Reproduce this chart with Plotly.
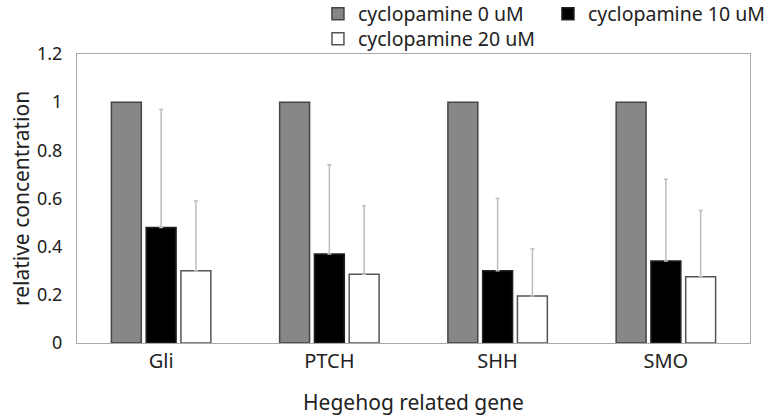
import plotly.graph_objects as go

genes = ["Gli", "PTCH", "SHH", "SMO"]
series_names = ["cyclopamine 0 uM", "cyclopamine 10 uM", "cyclopamine 20 uM"]
conc_0 = [1.0, 1.0, 1.0, 1.0]
conc_10 = [0.48, 0.37, 0.30, 0.34]
conc_20 = [0.30, 0.285, 0.195, 0.275]
err_10 = [0.49, 0.37, 0.30, 0.34]
err_20 = [0.29, 0.285, 0.195, 0.275]

fills = ["#878787", "#000000", "#ffffff"]
outlines = ["#444444", "#222222", "#555555"]
legend_ids = ["legend", "legend", "legend2"]

fig = go.Figure()
for name, vals, err, fc, lc, lg in zip(series_names, [conc_0, conc_10, conc_20],
                                       [None, err_10, err_20], fills, outlines,
                                       legend_ids):
    if err is None:
        ey = dict(visible=False)
    else:
        ey = dict(type="data", symmetric=False, array=err,
                  arrayminus=[0] * len(err), color="#bdbdbd",
                  thickness=1.5, width=2, visible=True)
    fig.add_trace(go.Bar(
        x=genes, y=vals, name=name, legend=lg,
        marker=dict(color=fc, line=dict(color=lc, width=1.5)),
        error_y=ey,
    ))

font = "Noto Sans"
leg_common = dict(orientation="h", xref="container", yref="container",
                  x=0.414, xanchor="left", yanchor="middle",
                  entrywidth=185, font=dict(size=19.5), itemwidth=30,
                  bgcolor="rgba(0,0,0,0)", traceorder="normal")
fig.update_layout(
    width=768, height=418,
    margin=dict(l=77, r=18, t=54, b=75, autoexpand=False),
    paper_bgcolor="white", plot_bgcolor="white",
    barmode="group", bargap=0.38, bargroupgap=0.14,
    font=dict(family=font, size=18, color="#222"),
    legend=dict(leg_common, y=1 - 14 / 418),
    legend2=dict(leg_common, y=1 - 39 / 418),
    xaxis=dict(showline=True, linecolor="#aaaaaa", linewidth=1, mirror=True,
               ticks="", title=dict(text="Hegehog related gene", standoff=22,
                                    font=dict(size=21)),
               tickfont=dict(size=20)),
    yaxis=dict(range=[0, 1.2], dtick=0.2, showgrid=False, showline=True,
               linecolor="#aaaaaa", linewidth=1, mirror=True, ticks="",
               zeroline=False, tickformat="~g", ticklabelstandoff=10,
               title=dict(text="relative concentration", standoff=1,
                          font=dict(size=21)),
               tickfont=dict(size=18)),
)

# drop the default 8px body margin so the figure fills the window
fig.write_html("out.html", config={"displayModeBar": False},
               post_script="document.body.style.margin='0';")
